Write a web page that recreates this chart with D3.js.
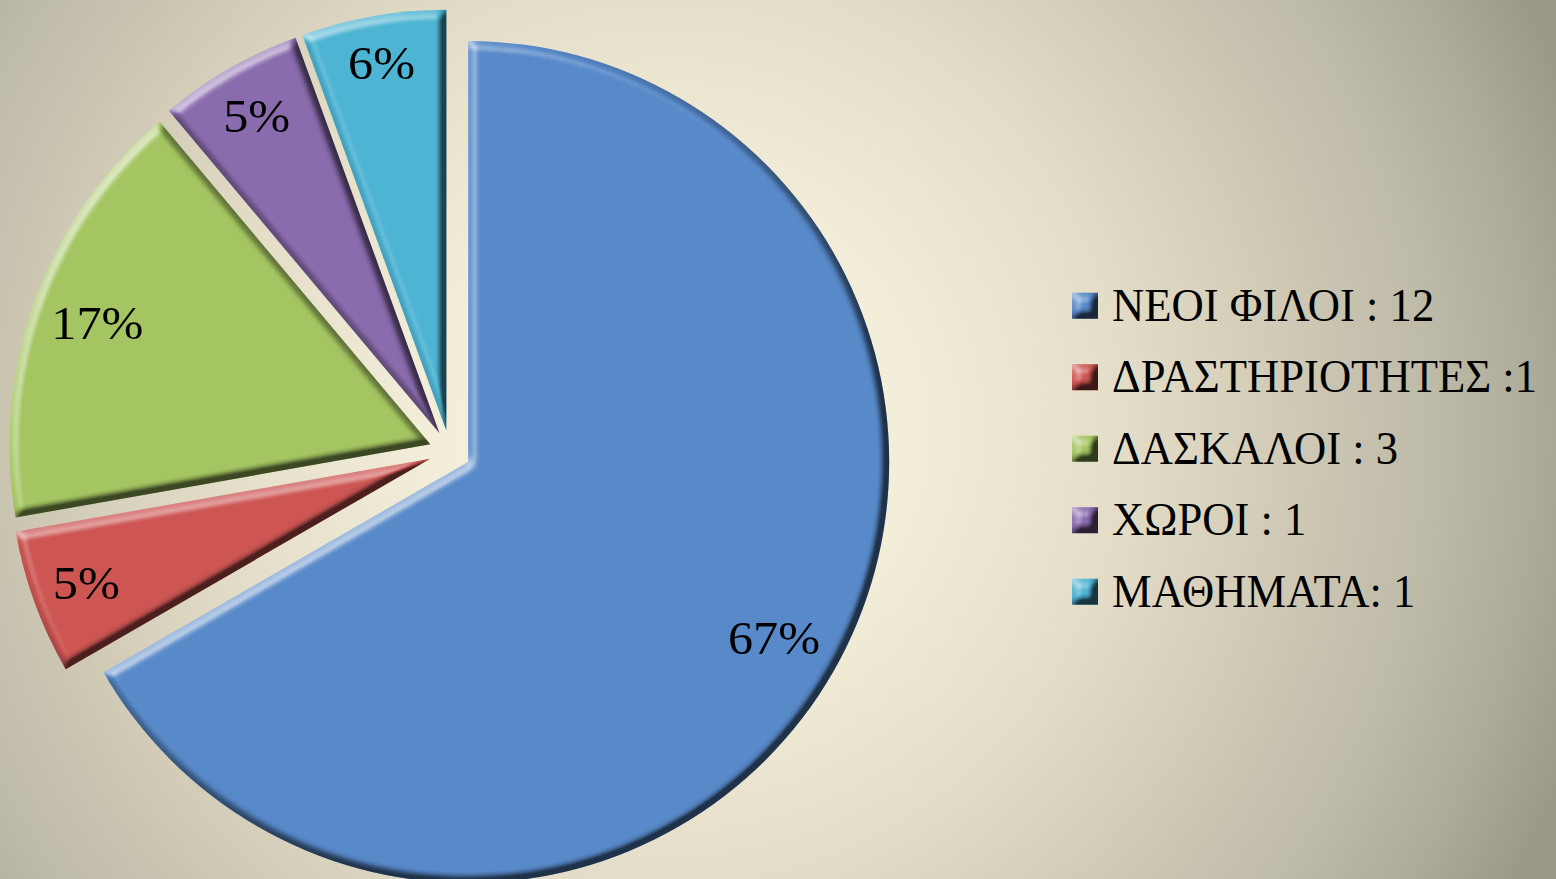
<!DOCTYPE html>
<html>
<head>
<meta charset="utf-8">
<script src="https://cdn.jsdelivr.net/npm/d3@7"></script>
<style>
  html, body { margin: 0; padding: 0; overflow: hidden; }
  svg { display: block; }
</style>
</head>
<body>
<svg id="chart" width="1556" height="879"></svg>
<script>
// ---- data ----
const categories = ["ΝΕΟΙ ΦΙΛΟΙ", "ΔΡΑΣΤΗΡΙΟΤΗΤΕΣ", "ΔΑΣΚΑΛΟΙ", "ΧΩΡΟΙ", "ΜΑΘΗΜΑΤΑ"];
const values = [12, 1, 3, 1, 1];
const legendLabels = ["ΝΕΟΙ ΦΙΛΟΙ : 12", "ΔΡΑΣΤΗΡΙΟΤΗΤΕΣ :1", "ΔΑΣΚΑΛΟΙ : 3", "ΧΩΡΟΙ : 1", "ΜΑΘΗΜΑΤΑ: 1"];
const percentLabels = ["67%", "5%", "17%", "5%", "6%"];
const colors = ["#5889C9", "#CD5653", "#A5C562", "#8A6CAE", "#4EB4D3"];

// ---- setup ----
const W = 1556, H = 879;
const svg = d3.select("#chart");
const defs = svg.append("defs");

// background radial gradient
const bg = defs.append("radialGradient")
  .attr("id", "bg").attr("gradientUnits", "userSpaceOnUse")
  .attr("cx", 670).attr("cy", 430).attr("r", 960);
[[0, "#F6F1DE"], [0.25, "#F3EED9"], [0.48, "#E3DDC8"], [0.66, "#CEC8B4"],
 [0.8, "#BDBAA7"], [0.9, "#ADAB99"], [1, "#9A9886"]].forEach(([o, c]) =>
  bg.append("stop").attr("offset", o).attr("stop-color", c));
svg.append("rect").attr("width", W).attr("height", H).attr("fill", "url(#bg)");

// bevel filter
function makeBevel(id, blur, scale, hl, sh) {
  const f = defs.append("filter").attr("id", id)
    .attr("x", "-10%").attr("y", "-10%").attr("width", "120%").attr("height", "120%")
    .attr("color-interpolation-filters", "sRGB");
  f.append("feGaussianBlur").attr("in", "SourceAlpha").attr("stdDeviation", blur).attr("result", "blur");
  const dl = f.append("feDiffuseLighting").attr("in", "blur").attr("surfaceScale", scale)
    .attr("diffuseConstant", 1).attr("lighting-color", "#fff").attr("result", "diff");
  dl.append("feDistantLight").attr("azimuth", 225).attr("elevation", 45);
  const d0 = Math.SQRT1_2;
  f.append("feColorMatrix").attr("in", "diff").attr("type", "matrix")
    .attr("values", `0 0 0 0 1  0 0 0 0 1  0 0 0 0 1  ${hl} 0 0 0 ${-hl * d0}`).attr("result", "hlRaw");
  f.append("feColorMatrix").attr("in", "diff").attr("type", "matrix")
    .attr("values", `0 0 0 0 0  0 0 0 0 0  0 0 0 0 0  ${-sh} 0 0 0 ${sh * d0}`).attr("result", "shRaw");
  f.append("feComposite").attr("in", "hlRaw").attr("in2", "SourceAlpha").attr("operator", "in").attr("result", "hlC");
  f.append("feComposite").attr("in", "shRaw").attr("in2", "SourceAlpha").attr("operator", "in").attr("result", "shC");
  const m = f.append("feMerge");
  m.append("feMergeNode").attr("in", "SourceGraphic");
  m.append("feMergeNode").attr("in", "shC");
  m.append("feMergeNode").attr("in", "hlC");
}
makeBevel("bevel", 4.5, 11, 2.0, 0.9);
makeBevel("bevelSmall", 4, 12, 1.8, 1.0);

// ---- pie ----
const cx = 450, cy = 451.5, R = 421, explode = 21;
const pie = d3.pie().sort(null).startAngle(0).endAngle(2 * Math.PI);
const arcs = pie(values);
const arc = d3.arc().innerRadius(0).outerRadius(R);
const color = d3.scaleOrdinal().domain(categories).range(colors);
const mid = d => (d.startAngle + d.endAngle) / 2;

const g = svg.append("g").attr("transform", `translate(${cx},${cy})`);
const slice = g.selectAll("g.slice").data(arcs).join("g")
  .attr("class", "slice")
  .attr("transform", d => `translate(${explode * Math.sin(mid(d))},${-explode * Math.cos(mid(d))})`);
slice.append("path")
  .attr("d", arc)
  .attr("fill", (d, i) => color(categories[i]))
  .attr("filter", "url(#bevel)");

const fontFamily = "'Liberation Serif', 'Times New Roman', serif";
const labelScaleX = 1.07;
const inset = 13.5, halfH = 29;
slice.append("text")
  .attr("text-anchor", "middle")
  .attr("dy", "0.33em")
  .attr("font-family", fontFamily)
  .attr("font-size", 47)
  .attr("fill", "#000")
  .text((d, i) => percentLabels[i])
  .attr("transform", function(d) {
    const a = mid(d);
    const hw = this.getComputedTextLength() * labelScaleX / 2;
    const dist = R - inset - (hw * Math.abs(Math.sin(a)) + halfH * Math.abs(Math.cos(a)));
    return `translate(${dist * Math.sin(a)},${-dist * Math.cos(a)}) scale(${labelScaleX},1)`;
  });

// ---- legend ----
const ly = d3.scalePoint().domain(categories).range([320.7, 606.7]);
const legend = svg.append("g");
const row = legend.selectAll("g").data(categories).join("g")
  .attr("transform", d => `translate(1072,${ly(d)})`);
row.append("rect")
  .attr("x", 0).attr("y", -28).attr("width", 26).attr("height", 26)
  .attr("fill", d => color(d))
  .attr("filter", "url(#bevelSmall)");
row.append("text")
  .attr("transform", "translate(40,0) scale(0.95,1)")
  .attr("font-family", fontFamily)
  .attr("font-size", 47)
  .attr("fill", "#000")
  .text((d, i) => legendLabels[i]);
</script>
</body>
</html>
